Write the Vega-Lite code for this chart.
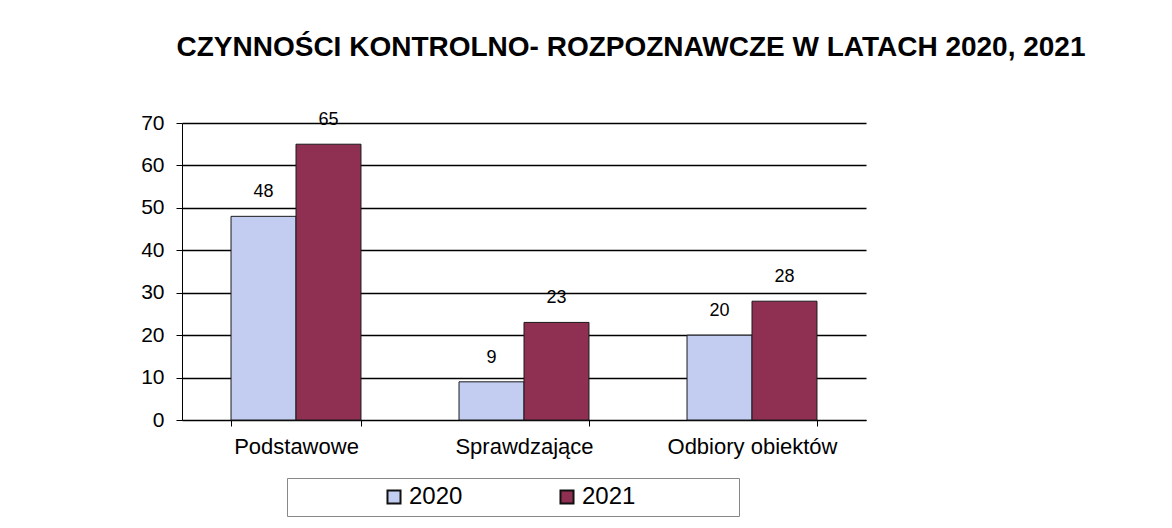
{
  "$schema": "https://vega.github.io/schema/vega-lite/v6.json",
  "autosize": {"type": "none"},
  "width": 684,
  "height": 297,
  "padding": {"left": 182, "top": 123, "right": 306, "bottom": 108},
  "background": "white",
  "title": {
    "text": "CZYNNOŚCI KONTROLNO- ROZPOZNAWCZE W LATACH 2020, 2021",
    "font": "Liberation Sans",
    "fontSize": 28,
    "fontWeight": "bold",
    "color": "#000000",
    "anchor": "middle",
    "dx": 107,
    "offset": 49
  },
  "data": {
    "values": [
      {"kategoria": "Podstawowe", "rok": "2020", "wartosc": 48},
      {"kategoria": "Podstawowe", "rok": "2021", "wartosc": 65},
      {"kategoria": "Sprawdzające", "rok": "2020", "wartosc": 9},
      {"kategoria": "Sprawdzające", "rok": "2021", "wartosc": 23},
      {"kategoria": "Odbiory obiektów", "rok": "2020", "wartosc": 20},
      {"kategoria": "Odbiory obiektów", "rok": "2021", "wartosc": 28}
    ]
  },
  "encoding": {
    "x": {
      "field": "kategoria",
      "type": "nominal",
      "sort": ["Podstawowe", "Sprawdzające", "Odbiory obiektów"],
      "scale": {"paddingInner": 0.43, "paddingOuter": 0.215},
      "axis": {
        "title": null,
        "labelAngle": 0,
        "labelFont": "Liberation Sans",
        "labelFontSize": 22,
        "labelColor": "#000000",
        "labelPadding": 10,
        "domainColor": "#000000",
        "tickColor": "#000000",
        "tickBand": "extent",
        "tickSize": 6,
        "grid": false
      }
    },
    "xOffset": {"field": "rok", "type": "nominal", "scale": {"paddingInner": 0, "paddingOuter": 0}},
    "y": {
      "field": "wartosc",
      "type": "quantitative",
      "scale": {"domain": [0, 70], "nice": false},
      "axis": {
        "title": null,
        "values": [0, 10, 20, 30, 40, 50, 60, 70],
        "labelOverlap": false,
        "labelFont": "Liberation Sans",
        "labelFontSize": 21,
        "labelColor": "#000000",
        "labelPadding": 12,
        "domainColor": "#000000",
        "tickColor": "#000000",
        "tickSize": 6,
        "grid": true,
        "gridColor": "#000000",
        "gridWidth": 1.3
      }
    }
  },
  "layer": [
    {
      "mark": {"type": "bar", "stroke": "#1a1a1a", "strokeWidth": 1},
      "encoding": {
        "color": {
          "field": "rok",
          "type": "nominal",
          "scale": {"domain": ["2020", "2021"], "range": ["#c3cdf2", "#8f2f52"]},
          "legend": {
            "title": "\u00a0",
            "titleOrient": "right",
            "titlePadding": 97,
            "orient": "none",
            "direction": "horizontal",
            "legendX": 105,
            "legendY": 355,
            "strokeColor": "#888888",
            "fillColor": "white",
            "padding": 7,
            "symbolType": "square",
            "symbolSize": 170,
            "symbolStrokeColor": "#111111",
            "symbolStrokeWidth": 2,
            "symbolOffset": 88,
            "labelFont": "Liberation Sans",
            "labelFontSize": 24,
            "labelColor": "#000000",
            "labelOffset": 3,
            "columnPadding": 4,
            "labelExpr": "datum.label + '                   '"
          }
        }
      }
    },
    {
      "mark": {"type": "text", "baseline": "bottom", "dy": -15, "font": "Liberation Sans", "fontSize": 18, "color": "#000000"},
      "encoding": {"text": {"field": "wartosc", "type": "quantitative"}}
    }
  ],
  "config": {"view": {"stroke": null}}
}
